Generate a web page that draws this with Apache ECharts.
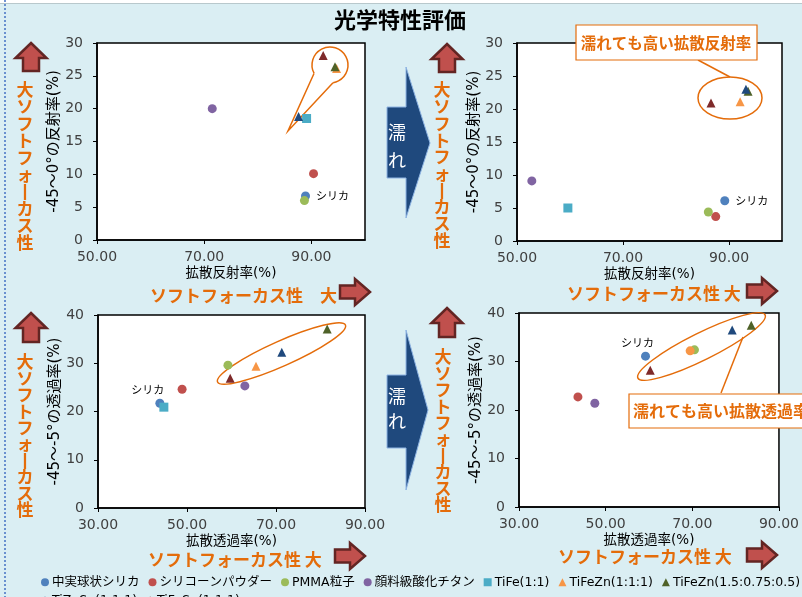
<!DOCTYPE html>
<html>
<head>
<meta charset="utf-8">
<script src="https://cdn.jsdelivr.net/npm/echarts@6/dist/echarts.min.js"></script>
<style>
  html, body { margin: 0; padding: 0; background: #DAEEF3; }
  #chart { width: 802px; height: 597px; }
</style>
</head>
<body>
<div id="chart"></div>
<script>
// series (materials)
const seriesNames = ['中実球状シリカ', 'シリコーンパウダー', 'PMMA粒子', '顔料級酸化チタン', 'TiFe(1:1)',
  'TiFeZn(1:1:1)', 'TiFeZn(1.5:0.75:0.5)', 'TiZnSn(1:1:1)', 'TiFeSn(1:1:1)'];
const seriesColors = ['#4F81BD', '#C0504D', '#9BBB59', '#8064A2', '#4BACC6', '#F79646', '#4F6228', '#1F497D', '#7F2A2A'];
const seriesSymbols = ['circle', 'circle', 'circle', 'circle', 'rect', 'triangle', 'triangle', 'triangle', 'triangle'];

// diffuse reflectance vs -45~0° reflectance, dry
const reflDryX = [88.9, 90.4, 88.7, 71.5, 89.1, 94.7, 94.4, 87.6, 92.2];
const reflDryY = [6.7, 10.1, 6.0, 20.0, 18.5, 26.1, 26.4, 18.8, 28.1];
// wet
const reflWetX = [89.2, 87.5, 86.1, 52.8, 59.6, 92.1, 93.6, 93.2, 86.6];
const reflWetY = [6.1, 3.7, 4.4, 9.1, 5.0, 21.1, 22.7, 23.0, 20.9];
// diffuse transmittance vs -45~-5° transmittance, dry
const transDryX = [43.9, 48.9, 59.2, 63.0, 44.8, 65.5, 81.5, 71.3, 59.7];
const transDryY = [21.7, 24.6, 29.6, 25.3, 20.9, 29.4, 37.1, 32.3, 26.9];
// wet (no TiFe point)
const transWetX = [59.2, 43.6, 70.5, 47.5, null, 69.5, 83.6, 79.2, 60.3];
const transWetY = [31.1, 22.7, 32.4, 21.4, null, 32.2, 37.5, 36.5, 28.2];

const panels = [
  { xs: reflDryX, ys: reflDryY, grid: { left: 97, top: 43, width: 268, height: 197 }, x: [50, 100], y: [0, 30, 5], xName: '拡散反射率(%)', yName: '-45～0°の反射率(%)', silicaPos: { position: 'right', distance: 6 } },
  { xs: reflWetX, ys: reflWetY, grid: { left: 517, top: 43, width: 265, height: 198 }, x: [50, 100], y: [0, 30, 5], xName: '拡散反射率(%)', yName: '-45～0°の反射率(%)', silicaPos: { position: 'right', distance: 6 } },
  { xs: transDryX, ys: transDryY, grid: { left: 98, top: 315, width: 267, height: 193 }, x: [30, 90], y: [0, 40, 10], xName: '拡散透過率(%)', yName: '-45～-5°の透過率(%)', silicaPos: { position: 'top', distance: 3, offset: [-12, 0] } },
  { xs: transWetX, ys: transWetY, grid: { left: 519, top: 313, width: 261, height: 194 }, x: [30, 90], y: [0, 40, 10], xName: '拡散透過率(%)', yName: '-45～-5°の透過率(%)', silicaPos: { position: 'top', distance: 3, offset: [-8, 0] } }
];

const JP = '"Noto Sans CJK JP", sans-serif';
const MIX = '"DejaVu Sans", "Noto Sans CJK JP", sans-serif';
const NUM = '"DejaVu Sans", Verdana, sans-serif';
const ORANGE = '#E46C0A';

const grids = [], xAxes = [], yAxes = [], series = [];
panels.forEach((p, pi) => {
  grids.push(Object.assign({ show: true, backgroundColor: '#fff', borderColor: '#000', borderWidth: 1.5 }, p.grid));
  xAxes.push({
    gridIndex: pi, type: 'value', min: p.x[0], max: p.x[1], interval: 20,
    name: p.xName, nameLocation: 'middle', nameGap: 27,
    nameTextStyle: { fontFamily: MIX, fontSize: 13.5, color: '#000' },
    axisLine: { show: true, onZero: false, lineStyle: { color: '#000', width: 1.5 } },
    axisTick: { show: true, length: 4, lineStyle: { color: '#000' } },
    axisLabel: { fontFamily: NUM, fontSize: 14, color: '#404040', margin: 10, showMaxLabel: p.x[1] === 90,
      formatter: v => v.toFixed(2) },
    splitLine: { show: false }
  });
  yAxes.push({
    gridIndex: pi, type: 'value', min: p.y[0], max: p.y[1], interval: p.y[2],
    name: p.yName, nameLocation: 'middle', nameGap: 35, nameRotate: 90,
    nameTextStyle: { fontFamily: MIX, fontSize: 15, color: '#000' },
    axisLine: { show: true, onZero: false, lineStyle: { color: '#000', width: 1.5 } },
    axisTick: { show: true, length: 4, lineStyle: { color: '#000' } },
    axisLabel: { fontFamily: NUM, fontSize: 14, color: '#404040', margin: 14 },
    splitLine: { show: false }
  });
  seriesNames.forEach((name, si) => {
    if (p.xs[si] == null) return;
    const item = { value: [p.xs[si], p.ys[si]] };
    if (si === 0) {
      item.label = Object.assign({ show: true, formatter: 'シリカ', fontFamily: JP, fontSize: 11, color: '#000' }, p.silicaPos);
    }
    // in the wet transmittance panel the TiFeZn(1:1:1) point is drawn as a circle
    if (pi === 3 && si === 5) item.symbol = 'circle';
    series.push({
      name, type: 'scatter', xAxisIndex: pi, yAxisIndex: pi,
      symbol: seriesSymbols[si], symbolSize: 9,
      itemStyle: { color: seriesColors[si], opacity: 1 },
      data: [item]
    });
  });
});

// decorations
function upArrow(cx, top, bottom) {
  const hh = 15, hw = 15.5, sw = 8;
  return { type: 'polygon', shape: { points: [[cx, top], [cx + hw, top + hh], [cx + sw, top + hh], [cx + sw, bottom], [cx - sw, bottom], [cx - sw, top + hh], [cx - hw, top + hh]] },
    style: { fill: '#C0504D', stroke: '#632523', lineWidth: 2.5 } };
}
function rightArrow(left, right, cy) {
  const hw = 15, hh = 13, sh = 6.5;
  return { type: 'polygon', shape: { points: [[right, cy], [right - hw, cy - hh], [right - hw, cy - sh], [left, cy - sh], [left, cy + sh], [right - hw, cy + sh], [right - hw, cy + hh]] },
    style: { fill: '#C0504D', stroke: '#632523', lineWidth: 2.5 } };
}
function vText(cx, firstCy, step) {
  return { type: 'text', x: cx, y: firstCy - step / 2, style: { text: '大\nソ\nフ\nト\nフ\nォ\n丨\nカ\nス\n性', font: 'bold 17px ' + JP, fill: ORANGE, align: 'center', verticalAlign: 'top', lineHeight: step } };
}
function hText(left, cy, txt) {
  return { type: 'text', x: left, y: cy, style: { text: txt, font: 'bold 17px ' + JP, fill: ORANGE, align: 'left', verticalAlign: 'middle' } };
}
function blueArrow(shaftTop, shaftBottom, headTop, headBottom, tipX, tipY, t1, t2) {
  return [
    { type: 'polygon', shape: { points: [[387, shaftTop], [406, shaftTop], [406, headTop], [tipX, tipY], [406, headBottom], [406, shaftBottom], [387, shaftBottom]] },
      style: { fill: '#1F497D', stroke: '#8EB4E3', lineWidth: 1 } },
    { type: 'text', x: 397, y: t1, style: { text: '濡', font: '18px ' + JP, fill: '#fff', align: 'center', verticalAlign: 'middle' } },
    { type: 'text', x: 397, y: t2, style: { text: 'れ', font: '18px ' + JP, fill: '#fff', align: 'center', verticalAlign: 'middle' } }
  ];
}
const deg = Math.PI / 180;
const stroke = { stroke: ORANGE, lineWidth: 1.5, fill: null };

const graphics = [
  { type: 'rect', shape: { x: 0, y: 0, width: 802, height: 3 }, style: { fill: '#fff' } },
  { type: 'line', shape: { x1: 0, y1: 3.5, x2: 802, y2: 3.5 }, style: { stroke: '#B8C8CC', lineWidth: 1 } },
  { type: 'line', shape: { x1: 5, y1: 0, x2: 5, y2: 597 }, style: { stroke: '#4472C4', lineWidth: 1.5, lineDash: [2, 2] } },
  { type: 'text', x: 400, y: 20, style: { text: '光学特性評価', font: 'bold 22px ' + JP, fill: '#000', align: 'center', verticalAlign: 'middle' } },
  upArrow(31, 43, 71), upArrow(447, 44, 72), upArrow(31, 313, 342), upArrow(447, 308, 337),
  vText(25, 90, 16.9), vText(442, 90, 16.7), vText(25, 362, 16.4), vText(443, 357, 16.4),
  hText(150, 296, 'ソフトフォーカス性　大'), hText(567, 294, 'ソフトフォーカス性 大'),
  hText(148, 560, 'ソフトフォーカス性 大'), hText(558, 557, 'ソフトフォーカス性 大'),
  rightArrow(340, 370, 292), rightArrow(747, 777, 291), rightArrow(335, 365, 556), rightArrow(747, 777, 555),
  ...blueArrow(107, 178, 67, 218, 430, 143, 132, 160),
  ...blueArrow(375, 448, 330, 490, 428, 410, 396, 421),
  // callout top-left
  { type: 'arc', shape: { cx: 330, cy: 65, r: 18, startAngle: 152 * deg, endAngle: 440 * deg, clockwise: true }, style: Object.assign({}, stroke) },
  { type: 'polyline', shape: { points: [[314, 73.5], [288, 131], [333, 82.8]] }, style: Object.assign({}, stroke) },
  // callout top-right
  { type: 'line', shape: { x1: 698, y1: 60, x2: 730, y2: 77 }, style: Object.assign({}, stroke) },
  { type: 'ellipse', shape: { cx: 730, cy: 98, rx: 32, ry: 21 }, style: Object.assign({}, stroke) },
  { type: 'rect', shape: { x: 576, y: 25, width: 181, height: 35 }, style: { fill: '#fff', stroke: ORANGE, lineWidth: 1.2 } },
  { type: 'text', x: 666, y: 43, style: { text: '濡れても高い拡散反射率', font: 'bold 15.5px ' + JP, fill: ORANGE, align: 'center', verticalAlign: 'middle' } },
  // ellipse bottom-left
  { type: 'ellipse', x: 281.5, y: 353.5, rotation: 24 * deg, shape: { cx: 0, cy: 0, rx: 70, ry: 12.5 }, style: Object.assign({}, stroke) },
  // callout bottom-right
  { type: 'ellipse', x: 701.5, y: 346.5, rotation: 26.4 * deg, shape: { cx: 0, cy: 0, rx: 71, ry: 13.5 }, style: Object.assign({}, stroke) },
  { type: 'line', shape: { x1: 721, y1: 393, x2: 743, y2: 337 }, style: Object.assign({}, stroke) },
  { type: 'rect', shape: { x: 629, y: 394, width: 190, height: 34 }, style: { fill: '#fff', stroke: ORANGE, lineWidth: 1.2 } },
  { type: 'text', x: 633, y: 411, style: { text: '濡れても高い拡散透過率', font: 'bold 16px ' + JP, fill: ORANGE, align: 'left', verticalAlign: 'middle' } }
];

const legendBase = {
  orient: 'horizontal', left: 36, itemWidth: 8, itemHeight: 8, itemGap: 9,
  textStyle: { fontFamily: MIX, fontSize: 12.5, color: '#000', padding: [0, 0, 0, -2] },
  selectedMode: true
};

const chart = echarts.init(document.getElementById('chart'));
chart.setOption({
  backgroundColor: '#DAEEF3',
  animation: false,
  grid: grids,
  xAxis: xAxes,
  yAxis: yAxes,
  legend: [
    Object.assign({}, legendBase, { top: 571, width: 1200, data: seriesNames.slice(0, 7) }),
    Object.assign({}, legendBase, { top: 589, width: 1200, data: seriesNames.slice(7) })
  ],
  series,
  graphic: { elements: graphics }
});
</script>
</body>
</html>
